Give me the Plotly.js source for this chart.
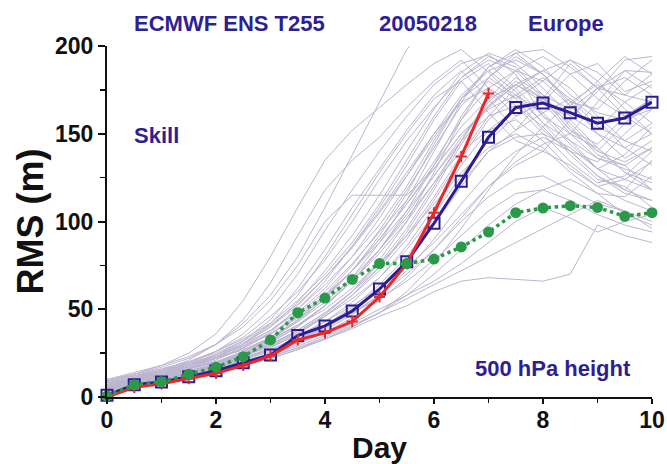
<!DOCTYPE html>
<html>
<head>
<meta charset="utf-8">
<script src="https://cdn.plot.ly/plotly-3.0.1.min.js"></script>
<style>html,body{margin:0;padding:0;background:#fff;}#chart{width:667px;height:464px;}</style>
</head>
<body>
<div id="chart"></div>
<script>
// Forecast day (every 12 h)
const days = [0,0.5,1,1.5,2,2.5,3,3.5,4,4.5,5,5.5,6,6.5,7,7.5,8,8.5,9,9.5,10];
const redDays = [0,0.5,1,1.5,2,2.5,3,3.5,4,4.5,5,5.5,6,6.5,7];

// Highlighted curves (RMS, m)
const redForecast = [0,5.5,7.5,10.5,13.5,18,23.5,32.5,36.5,43,57,76,105,137,173];
const blueControl = [1,7,8.5,11.5,15,19.5,24,35,40.5,49,61.5,77,99,123,148,165,167.5,162,156,159,168];
const greenMean = [0.5,7,8.7,13,17,23,32.5,48,56.4,67,76,76,78.6,85.5,94,105,107.7,109,108,103,105];

// Ensemble members (grey spaghetti), read approximately
const m01 = [9,13,18,25,36,55,80,108,135,152,165,178,190,198,185,170,180,192,185,172,168];
const m02 = [7,11,15,21,30,44,65,92,118,135,148,165,180,192,176,160,168,184,190,174,180];
const m03 = [6,10,14,19,26,36,50,70,95,118,140,160,178,190,195,184,160,150,168,186,185];
const m04 = [5,9,13,18,24,32,44,62,84,108,130,152,172,186,170,152,170,190,176,160,150];
const m05 = [10,14,18,23,30,40,55,75,100,115,115,115,130,150,165,178,170,160,150,142,150];
const m06 = [4,8,12,16,22,30,42,58,80,104,128,150,170,180,162,146,140,158,176,182,172];
const m07 = [8,11,15,20,26,34,46,60,78,100,124,146,165,182,192,186,170,152,140,156,168];
const m08 = [6,10,13,18,23,30,40,54,72,92,115,140,164,185,196,190,176,160,174,192,194];
const m09 = [5,8,12,16,21,28,37,50,66,86,108,132,158,180,190,176,160,144,130,138,154];
const m10 = [9,12,16,20,26,33,42,55,70,88,110,135,160,182,194,188,172,164,176,186,176];
const m11 = [7,10,14,18,23,29,38,50,64,80,98,120,146,170,186,192,184,168,150,136,146];
const m12 = [4,7,10,14,19,25,33,44,58,75,95,118,142,166,180,170,152,140,134,150,164];
const m13 = [6,9,13,17,22,28,36,47,60,76,94,112,134,158,176,186,180,166,152,168,178];
const m14 = [8,11,15,19,24,31,40,52,68,85,105,126,148,170,182,172,156,140,126,118,135];
const m15 = [3,6,10,14,18,24,31,40,52,68,88,112,140,168,188,196,184,166,180,194,184];
const m16 = [10,13,16,20,25,32,41,53,68,86,106,128,150,168,176,166,150,134,122,126,140];
const m17 = [5,9,12,16,20,26,34,44,56,72,90,110,132,154,170,178,168,150,136,132,142];
const m18 = [7,10,13,17,22,28,36,46,58,72,88,106,126,148,166,178,186,176,160,146,140];
const m19 = [6,9,12,15,19,24,31,40,52,66,82,100,122,146,168,182,172,154,138,132,118];
const m20 = [4,8,11,14,18,23,30,38,48,60,76,96,120,146,170,186,194,184,170,160,170];
const m21 = [9,12,15,19,23,29,36,45,57,72,90,110,130,150,164,172,162,146,130,118,112];
const m22 = [5,8,11,14,18,22,28,36,46,58,74,94,118,144,166,180,170,152,144,160,170];
const m23 = [7,10,13,16,20,25,32,41,52,66,84,104,126,146,160,166,154,138,124,120,108];
const m24 = [3,7,10,13,17,22,28,36,46,58,72,90,112,136,158,172,182,170,154,146,156];
const m25 = [8,11,14,18,22,27,34,43,54,68,84,102,122,140,152,158,146,130,120,124,134];
const m26 = [6,9,12,15,19,24,30,38,48,60,74,92,114,138,160,176,186,192,180,164,150];
const m27 = [5,8,11,14,17,21,27,34,43,54,68,86,108,132,152,164,170,158,142,128,122];
const m28 = [9,12,15,18,22,27,33,41,50,62,76,92,110,128,142,150,142,128,116,114,126];
const m29 = [4,7,10,13,16,20,25,32,40,50,62,78,98,120,140,152,162,170,158,142,132];
const m30 = [7,10,13,16,20,24,30,37,46,56,68,84,104,126,146,160,168,156,140,134,142];
const m31 = [6,9,12,15,18,22,27,33,41,51,64,80,100,122,140,148,150,142,130,124,118];
const m32 = [5,8,11,13,16,20,25,31,38,47,58,72,90,110,128,140,148,140,126,116,112];
const m33 = [8,11,14,17,20,24,29,35,43,52,62,74,88,104,120,132,140,132,120,112,106];
const m34 = [3,6,9,12,15,19,24,30,37,45,55,68,84,102,120,134,144,150,142,128,118];
const m35 = [6,9,11,14,17,21,26,32,39,48,58,70,84,100,114,124,126,118,110,106,100];
const m36 = [7,10,12,15,18,22,27,33,40,48,56,66,78,92,106,116,118,112,104,98,94];
const m37 = [4,7,9,12,15,18,22,27,33,40,48,58,70,84,98,110,118,124,116,104,98];
const m38 = [5,8,10,13,16,19,23,28,34,41,48,56,64,72,80,88,96,104,112,106,96];
const m39 = [6,9,11,13,16,19,23,28,33,39,46,52,60,66,68,67,66,70,98,92,88];
const m40 = [8,10,12,14,17,20,24,29,35,42,50,58,66,76,88,100,108,102,94,100,104];
const m41 = [4,6,9,12,15,18,22,27,33,40,48,60,76,96,118,138,154,168,178,168,156];
const m42 = [7,10,13,16,20,25,32,41,52,66,84,106,132,160,182,196,198,188,176,172,184];
const m43 = [5,8,11,14,18,23,29,37,47,60,78,100,128,158,182,194,184,168,164,180,192];
const m44 = [9,12,15,19,24,30,38,48,62,80,102,126,150,172,186,174,156,146,136,130,124];
const m45 = [6,9,12,16,20,26,33,43,56,72,92,116,144,170,188,198,188,172,162,158,164];
const m46 = [9,13,17,22,30,42,58,80,108,138,168,198,215,220,210,205,200,208,212,205,210];
const members = [m01,m02,m03,m04,m05,m06,m07,m08,m09,m10,m11,m12,m13,m14,m15,m16,m17,m18,m19,m20,
                 m21,m22,m23,m24,m25,m26,m27,m28,m29,m30,m31,m32,m33,m34,m35,m36,m37,m38,m39,m40,
                 m41,m42,m43,m44,m45,m46];

const FONT = 'Liberation Sans, Arial, Helvetica, sans-serif';
const TXT = '#2e1f92';

const traces = members.map(m => ({
  x: days, y: m, type: 'scatter', mode: 'lines',
  line: {color: 'rgb(188,181,207)', width: 1},
  hoverinfo: 'skip', showlegend: false
}));

traces.push({
  x: days, y: blueControl, type: 'scatter', mode: 'lines+markers', cliponaxis: false,
  line: {color: '#2b1d94', width: 3},
  marker: {symbol: 'square-open', size: 11, color: '#2b1d94', line: {width: 2, color: '#2b1d94'}},
  showlegend: false
});
traces.push({
  x: redDays, y: redForecast, type: 'scatter', mode: 'lines+markers', cliponaxis: false,
  line: {color: '#e8292b', width: 3},
  marker: {symbol: 'cross-thin', size: 8, color: '#e8292b', line: {width: 2, color: '#e8292b'}},
  showlegend: false
});
traces.push({
  x: days, y: greenMean, type: 'scatter', mode: 'lines+markers', cliponaxis: false,
  line: {color: '#2a9a4a', width: 3.5, dash: 'dot'},
  marker: {symbol: 'circle', size: 11, color: '#2a9a4a'},
  showlegend: false
});

function ann(text, x, y) {
  return {text: text, xref: 'paper', yref: 'paper', x: x, y: y, xanchor: 'left', yanchor: 'middle',
          showarrow: false, font: {family: FONT, size: 22, color: TXT, weight: 'bold'}};
}

const layout = {
  width: 667, height: 464,
  margin: {l: 107, r: 15, t: 46, b: 67},
  paper_bgcolor: '#fff', plot_bgcolor: '#fff',
  font: {family: FONT, color: '#111'},
  showlegend: false,
  xaxis: {
    range: [0, 10], tickvals: [0,2,4,6,8,10], ticktext: ['0','2','4','6','8','10'],
    showgrid: false, zeroline: false, showline: true, linecolor: '#111', linewidth: 2,
    ticks: 'outside', ticklen: 5, tickwidth: 2, tickcolor: '#111', ticklabelstandoff: -4,
    minor: {dtick: 1, ticks: 'outside', ticklen: 4, tickwidth: 1.5, tickcolor: '#111', showgrid: false},
    tickfont: {family: FONT, size: 23, color: '#111', weight: 'bold'},
    title: {text: 'Day', font: {family: FONT, size: 30, color: '#111', weight: 'bold'}, standoff: 12}
  },
  yaxis: {
    range: [0, 200], tickvals: [0,50,100,150,200], ticktext: ['0','50','100','150','200'],
    showgrid: false, zeroline: false, showline: true, linecolor: '#111', linewidth: 2,
    ticks: 'outside', ticklen: 7, tickwidth: 2, tickcolor: '#111',
    minor: {dtick: 25, ticks: 'outside', ticklen: 5, tickwidth: 1.5, tickcolor: '#111', showgrid: false},
    tickfont: {family: FONT, size: 23, color: '#111', weight: 'bold'},
    title: {text: 'RMS (m)', font: {family: FONT, size: 36, color: '#111', weight: 'bold'}, standoff: 0}
  },
  annotations: [
    ann('ECMWF ENS T255', 0.046, 1.063),
    ann('20050218', 0.495, 1.063),
    ann('Europe', 0.769, 1.063),
    ann('Skill', 0.046, 0.744),
    ann('500 hPa height', 0.672, 0.080)
  ]
};

Plotly.newPlot('chart', traces, layout, {displayModeBar: false, staticPlot: true});
</script>
</body>
</html>
